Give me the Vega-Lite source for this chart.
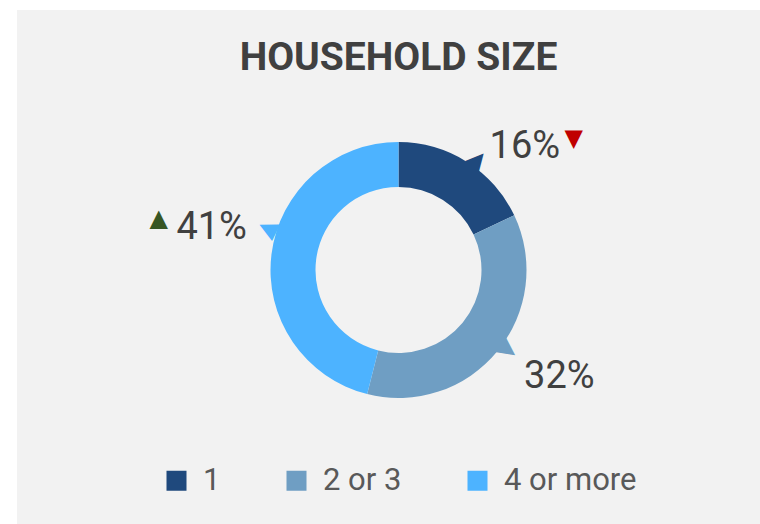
{
  "$schema": "https://vega.github.io/schema/vega-lite/v6.json",
  "autosize": "none",
  "width": 763,
  "height": 520,
  "padding": {"left": 17, "top": 10, "right": -20, "bottom": -6},
  "background": "white",
  "view": {"fill": "#F2F2F2", "stroke": "#F2F2F2", "strokeWidth": 0},
  "title": {
    "text": "HOUSEHOLD SIZE",
    "font": "Roboto",
    "fontSize": 39,
    "fontWeight": "bold",
    "color": "#404040",
    "anchor": "middle",
    "baseline": "alphabetic",
    "offset": 0,
    "dy": 99
  },
  "data": {
    "values": [
      {"size": "1", "value": 16, "label": "16%", "change": "down"},
      {"size": "2 or 3", "value": 32, "label": "32%", "change": "none"},
      {"size": "4 or more", "value": 41, "label": "41%", "change": "up"}
    ]
  },
  "encoding": {
    "theta": {"field": "value", "type": "quantitative", "stack": true}
  },
  "layer": [
    {
      "mark": {"type": "arc", "outerRadius": 128, "innerRadius": 83},
      "encoding": {
        "color": {
          "field": "size",
          "type": "nominal",
          "scale": {"domain": ["1", "2 or 3", "4 or more"], "range": ["#1F497D", "#6F9EC3", "#4DB3FF"]},
          "legend": {
            "orient": "bottom",
            "direction": "horizontal",
            "title": null,
            "symbolType": "square",
            "symbolSize": 400,
            "symbolStrokeWidth": 0,
            "labelFontSize": 31,
            "labelFont": "Roboto",
            "labelColor": "#595959",
            "labelOffset": 11,
            "columnPadding": 60,
            "offset": -65
          }
        }
      }
    },
    {
      "mark": {"type": "text", "radius": 150, "fontSize": 38, "font": "Roboto", "baseline": "alphabetic", "align": "center", "dx": 46, "dy": 15, "color": "#404040"},
      "encoding": {"text": {"condition": {"test": "datum.size === '1'", "field": "label", "type": "nominal"}, "value": ""}}
    },
    {
      "mark": {"type": "text", "radius": 150, "fontSize": 38, "font": "Roboto", "baseline": "alphabetic", "align": "center", "dx": 45, "dy": 23, "color": "#404040"},
      "encoding": {"text": {"condition": {"test": "datum.size === '2 or 3'", "field": "label", "type": "nominal"}, "value": ""}}
    },
    {
      "mark": {"type": "text", "radius": 150, "fontSize": 38, "font": "Roboto", "baseline": "alphabetic", "align": "center", "dx": -38, "dy": -13, "color": "#404040"},
      "encoding": {"text": {"condition": {"test": "datum.size === '4 or more'", "field": "label", "type": "nominal"}, "value": ""}}
    },
    {
      "mark": {"type": "text", "radius": 136, "thetaOffset": 0.061, "fontSize": 24, "font": "DejaVu Sans", "baseline": "middle", "align": "center", "angle": 41, "color": "#1F497D"},
      "encoding": {"text": {"condition": {"test": "datum.size === '1'", "value": "▲"}, "value": ""}}
    },
    {
      "mark": {"type": "text", "radius": 136, "thetaOffset": -0.056, "fontSize": 24, "font": "DejaVu Sans", "baseline": "middle", "align": "center", "angle": 126, "color": "#6F9EC3"},
      "encoding": {"text": {"condition": {"test": "datum.size === '2 or 3'", "value": "▲"}, "value": ""}}
    },
    {
      "mark": {"type": "text", "radius": 138, "thetaOffset": 0.182, "fontSize": 24, "font": "DejaVu Sans", "baseline": "middle", "align": "center", "angle": 296, "color": "#4DB3FF"},
      "encoding": {"text": {"condition": {"test": "datum.size === '4 or more'", "value": "▲"}, "value": ""}}
    },
    {
      "mark": {"type": "text", "radius": 150, "fontSize": 24, "font": "DejaVu Sans", "baseline": "middle", "align": "center", "dx": 95, "dy": -4},
      "encoding": {
        "text": {"condition": [
          {"test": "datum.size === '1' && datum.change === 'down'", "value": "▼"},
          {"test": "datum.size === '1' && datum.change === 'up'", "value": "▲"}
        ], "value": ""},
        "color": {"condition": {"test": "datum.change === 'down'", "value": "#C00000"}, "value": "#375623"}
      }
    },
    {
      "mark": {"type": "text", "radius": 150, "fontSize": 24, "font": "DejaVu Sans", "baseline": "middle", "align": "center", "dx": -91, "dy": -33},
      "encoding": {
        "text": {"condition": [
          {"test": "datum.size === '4 or more' && datum.change === 'down'", "value": "▼"},
          {"test": "datum.size === '4 or more' && datum.change === 'up'", "value": "▲"}
        ], "value": ""},
        "color": {"condition": {"test": "datum.change === 'down'", "value": "#C00000"}, "value": "#375623"}
      }
    }
  ],
  "config": {
    "legend": {"layout": {"bottom": {"anchor": "middle"}}}
  }
}
